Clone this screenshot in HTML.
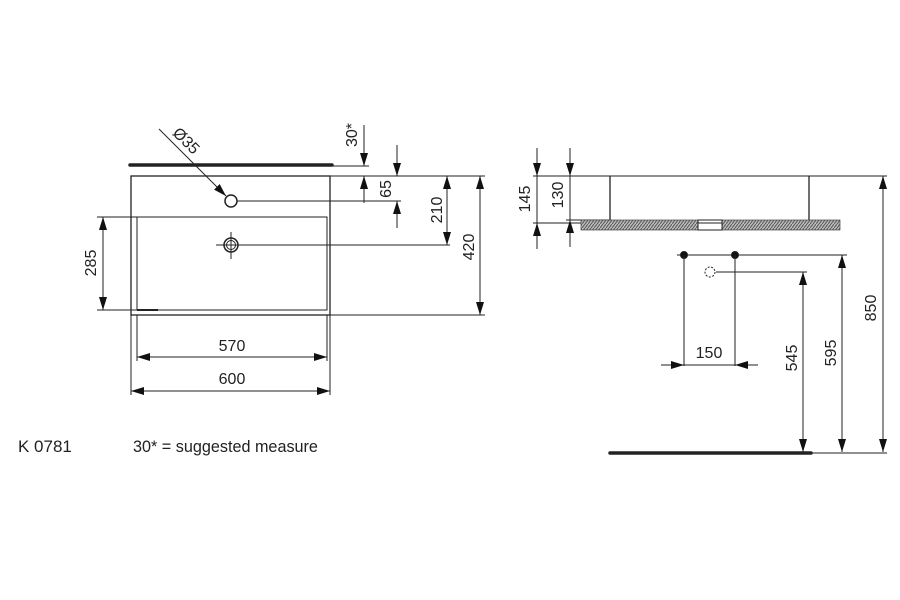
<!DOCTYPE html>
<html><head><meta charset="utf-8"><style>
html,body{margin:0;padding:0;background:#fff;}
svg{display:block;}
text{font-family:"Liberation Sans",Arial,sans-serif;fill:#222;}
</style></head><body>
<svg width="900" height="600" viewBox="0 0 900 600" xmlns="http://www.w3.org/2000/svg">
<defs>
<marker id="a" viewBox="0 0 13 8" refX="13" refY="4" markerWidth="13" markerHeight="8" markerUnits="userSpaceOnUse" orient="auto-start-reverse"><path d="M0,0 L13,4 L0,8 Z" fill="#111"/></marker>
<pattern id="h" width="6" height="4" patternUnits="userSpaceOnUse"><rect width="6" height="4" fill="#bbb"/><path d="M0,4 L3,0 M3,4 L6,0" stroke="#555" stroke-width="1"/></pattern>
</defs>
<g stroke="#222" stroke-width="1" fill="none">
<line x1="130" y1="165" x2="332" y2="165" stroke-width="3.5" stroke-linecap="round"/>
<line x1="332" y1="166" x2="369" y2="166"/>
<rect x="131" y="176" width="199" height="139" stroke-width="1.3"/>
<rect x="137" y="217" width="190" height="93"/>
<line x1="137" y1="310" x2="158" y2="310" stroke-width="2"/>
<circle cx="231" cy="201" r="6" stroke-width="1.5"/>
<line x1="237" y1="201" x2="401" y2="201"/>
<circle cx="231" cy="245" r="7" stroke-width="1.5"/>
<circle cx="231" cy="245" r="4.5"/>
<line x1="216" y1="245" x2="450" y2="245"/>
<line x1="231" y1="232" x2="231" y2="259"/>
<line x1="159" y1="129" x2="226" y2="196" marker-end="url(#a)"/>
<line x1="364" y1="125" x2="364" y2="166" marker-end="url(#a)"/>
<line x1="364" y1="203" x2="364" y2="176" marker-end="url(#a)"/>
<line x1="330" y1="176" x2="485" y2="176"/>
<line x1="397" y1="145" x2="397" y2="176" marker-end="url(#a)"/>
<line x1="397" y1="228" x2="397" y2="201" marker-end="url(#a)"/>
<line x1="447" y1="176" x2="447" y2="245" marker-start="url(#a)" marker-end="url(#a)"/>
<line x1="480" y1="176" x2="480" y2="315" marker-start="url(#a)" marker-end="url(#a)"/>
<line x1="330" y1="315" x2="485" y2="315"/>
<line x1="97" y1="217" x2="137" y2="217"/>
<line x1="97" y1="310" x2="137" y2="310"/>
<line x1="103" y1="217" x2="103" y2="310" marker-start="url(#a)" marker-end="url(#a)"/>
<line x1="137" y1="315" x2="137" y2="361"/>
<line x1="327" y1="315" x2="327" y2="361"/>
<line x1="137" y1="357" x2="327" y2="357" marker-start="url(#a)" marker-end="url(#a)"/>
<line x1="131" y1="315" x2="131" y2="395"/>
<line x1="330" y1="315" x2="330" y2="395"/>
<line x1="131" y1="391" x2="330" y2="391" marker-start="url(#a)" marker-end="url(#a)"/>

<line x1="533" y1="176" x2="887" y2="176"/>
<line x1="610" y1="176" x2="610" y2="220" stroke-width="1.3"/>
<line x1="809" y1="176" x2="809" y2="220" stroke-width="1.3"/>
<line x1="566" y1="220" x2="610" y2="220"/>
<rect x="581" y="220" width="117" height="10" fill="url(#h)" stroke="#444" stroke-width="0.7"/>
<rect x="722" y="220" width="118" height="10" fill="url(#h)" stroke="#444" stroke-width="0.7"/>
<rect x="698" y="220" width="24" height="10" fill="#fff" stroke-width="1"/>
<line x1="698" y1="223" x2="722" y2="223"/>
<line x1="533" y1="223" x2="581" y2="223"/>
<line x1="537" y1="148" x2="537" y2="176" marker-end="url(#a)"/>
<line x1="537" y1="249" x2="537" y2="223" marker-end="url(#a)"/>
<line x1="537" y1="176" x2="537" y2="223"/>
<line x1="570" y1="148" x2="570" y2="176" marker-end="url(#a)"/>
<line x1="570" y1="247" x2="570" y2="220" marker-end="url(#a)"/>
<line x1="570" y1="176" x2="570" y2="220"/>
<line x1="677" y1="255" x2="847" y2="255"/>
<circle cx="684" cy="255" r="3.5" fill="#111"/>
<circle cx="735" cy="255" r="3.5" fill="#111"/>
<circle cx="710" cy="272" r="5" stroke-dasharray="2,1.5"/>
<line x1="716" y1="272" x2="807" y2="272"/>
<line x1="684" y1="255" x2="684" y2="366"/>
<line x1="735" y1="255" x2="735" y2="366"/>
<line x1="661" y1="365" x2="684" y2="365" marker-end="url(#a)"/>
<line x1="758" y1="365" x2="735" y2="365" marker-end="url(#a)"/>
<line x1="684" y1="365" x2="735" y2="365"/>
<line x1="803" y1="272" x2="803" y2="452" marker-start="url(#a)" marker-end="url(#a)"/>
<line x1="842" y1="255" x2="842" y2="452" marker-start="url(#a)" marker-end="url(#a)"/>
<line x1="883" y1="176" x2="883" y2="452" marker-start="url(#a)" marker-end="url(#a)"/>
<line x1="610" y1="453" x2="811" y2="453" stroke-width="3.5" stroke-linecap="round"/>
<line x1="811" y1="453" x2="887" y2="453"/>
</g>
<g font-size="16" text-anchor="middle">
<text x="0" y="0" transform="translate(186,141) rotate(45)" dy="5">Ø35</text>
<text transform="translate(357,135) rotate(-90)">30*</text>
<text transform="translate(391,189) rotate(-90)">65</text>
<text transform="translate(442,210) rotate(-90)">210</text>
<text transform="translate(474,247) rotate(-90)">420</text>
<text transform="translate(96,263) rotate(-90)">285</text>
<text x="232" y="351">570</text>
<text x="232" y="384">600</text>
<text transform="translate(530,199) rotate(-90)">145</text>
<text transform="translate(563,195) rotate(-90)">130</text>
<text x="709" y="358">150</text>
<text transform="translate(797,358) rotate(-90)">545</text>
<text transform="translate(836,353) rotate(-90)">595</text>
<text transform="translate(876,308) rotate(-90)">850</text>
</g>
<text x="18" y="452" font-size="17">K 0781</text>
<text x="133" y="452" font-size="16.2">30* = suggested measure</text>
</svg>
</body></html>
